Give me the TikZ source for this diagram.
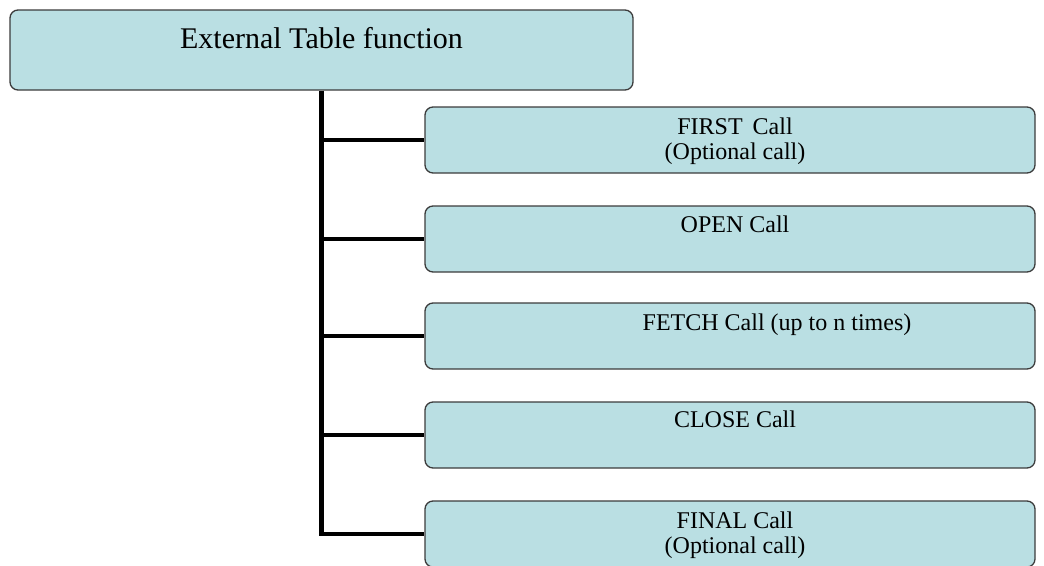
\documentclass[tikz,border=0pt]{standalone}
\usepackage{fontspec}
\setmainfont{Liberation Serif}
\definecolor{boxfill}{RGB}{186,223,227}
\definecolor{boxline}{RGB}{60,60,60}
\begin{document}
\begin{tikzpicture}[x=1pt,y=-1pt,
    callbox/.style={draw=boxline,line width=1.3pt,fill=boxfill,rounded corners=8pt,
      minimum width=610pt,minimum height=66pt,inner sep=0pt},
    calltext/.style={anchor=base,align=center,inner sep=0pt,
      font=\fontsize{24}{25}\selectfont},
    branch/.style={line width=4.5pt}]
\useasboundingbox (0,0) rectangle (1044,565);

% root
\node[callbox,minimum width=623pt,minimum height=80pt] (root) at (321.5,50) {};
\node[anchor=base,inner sep=0pt,font=\fontsize{30}{32}\selectfont] (roottext)
    at ([yshift=-39pt]root.north) {External Table function};

% calls
\node[callbox] (first) at (730,140) {};
\node[callbox] (open) at (730,239) {};
\node[callbox] (fetch) at (730,336) {};
\node[callbox] (close) at (730,435) {};
\node[callbox] (final) at (730,534) {};

% base anchor sits on the last line, hence the larger shift for two lines
\node[calltext] (firsttext) at ([xshift=5pt,yshift=-53pt]first.north) {FIRST\, Call\\(Optional call)};
\node[calltext] (opentext) at ([xshift=5pt,yshift=-27pt]open.north) {OPEN Call};
\node[calltext] (fetchtext) at ([xshift=47pt,yshift=-28pt]fetch.north) {FETCH Call (up to n times)};
\node[calltext] (closetext) at ([xshift=5pt,yshift=-26pt]close.north) {CLOSE Call};
\node[calltext] (finaltext) at ([xshift=5pt,yshift=-53pt]final.north) {FINAL Call\\(Optional call)};

% tree lines
\draw[branch] (root.south) |- (final.west);
\foreach \c in {first,open,fetch,close}
  \draw[branch] (root.south |- \c.west) -- (\c.west);
\end{tikzpicture}
\end{document}
